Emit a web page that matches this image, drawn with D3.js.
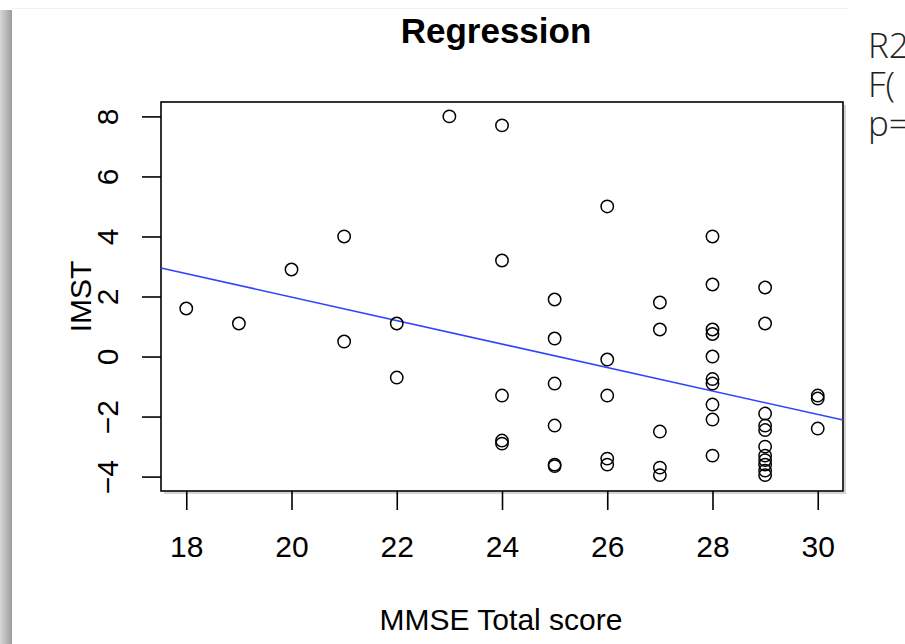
<!DOCTYPE html>
<html lang="en">
<head>
<meta charset="utf-8">
<title>Regression</title>
<script src="https://cdn.jsdelivr.net/npm/d3@7"></script>
<style>
  body { margin: 0; background: #fff; }
  text { font-family: "Liberation Sans", Arial, Helvetica, sans-serif; fill: #000; }
  .side { font-family: "Open Sans", "Noto Sans", sans-serif; font-weight: 300; fill: #222; }
  .dot { fill: none; stroke: #000; stroke-width: 1.5; }
  .fit { stroke: #3344ff; stroke-width: 1.6; }
</style>
</head>
<body>
<svg id="chart" width="905" height="644"></svg>
<script>
// data
var mmse = [18, 19, 20, 21, 21, 22, 22, 23,
            24, 24, 24, 24, 24,
            25, 25, 25, 25, 25, 25,
            26, 26, 26, 26, 26,
            27, 27, 27, 27, 27,
            28, 28, 28, 28, 28, 28, 28, 28, 28, 28,
            29, 29, 29, 29, 29, 29, 29, 29, 29, 29, 29,
            30, 30, 30]
var imst = [1.6, 1.1, 2.9, 4.0, 0.5, 1.1, -0.7, 8.0,
            7.7, 3.2, -1.3, -2.8, -2.9,
            1.9, 0.6, -0.9, -2.3, -3.6, -3.65,
            5.0, -0.1, -1.3, -3.4, -3.6,
            1.8, 0.9, -2.5, -3.7, -3.95,
            4.0, 2.4, 0.9, 0.75, 0.0, -0.75, -0.9, -1.6, -2.1, -3.3,
            2.3, 1.1, -1.9, -2.3, -2.45, -3.0, -3.3, -3.45, -3.6, -3.8, -3.95,
            -1.3, -1.4, -2.4]
var xTicks = [18, 20, 22, 24, 26, 28, 30]
var yTicks = [-4, -2, 0, 2, 4, 6, 8]
var fitCoef = [9.80, -0.391]   // intercept, slope
var sideLines = ["R2", "F(", "p="]

var svg = d3.select("#chart")

// left drop shadow of the pasted picture
var defs = svg.append("defs")
var grad = defs.append("linearGradient").attr("id", "shade")
grad.append("stop").attr("offset", "0%").attr("stop-color", "#d6d6d6")
grad.append("stop").attr("offset", "80%").attr("stop-color", "#a8a8a8")
grad.append("stop").attr("offset", "100%").attr("stop-color", "#9a9a9a")
svg.append("rect").attr("x", 0).attr("y", 10).attr("width", 12).attr("height", 634)
    .attr("fill", "url(#shade)")
svg.append("line").attr("x1", 12).attr("x2", 848).attr("y1", 8.5).attr("y2", 8.5)
    .attr("stroke", "#efefef")

var boxL = 161, boxR = 843, boxT = 102, boxB = 491

var x = d3.scaleLinear().domain([17.52, 30.48]).range([boxL, boxR])
var y = d3.scaleLinear().domain([-4.48, 8.48]).range([boxB, boxT])

// faint shadow behind the box
svg.append("path")
    .attr("d", "M" + (boxL + 3) + "," + (boxB + 2) + "H" + (boxR + 2) + "V" + (boxT + 3))
    .attr("fill", "none").attr("stroke", "#d4d4d4").attr("stroke-width", 2)

svg.append("rect")
    .attr("x", boxL).attr("y", boxT)
    .attr("width", boxR - boxL).attr("height", boxB - boxT)
    .attr("fill", "none").attr("stroke", "#000").attr("stroke-width", 1.6)

// x axis
var gx = svg.append("g")
    .attr("transform", "translate(0," + boxB + ")")
    .call(d3.axisBottom(x).tickValues(xTicks).tickSizeInner(19).tickSizeOuter(0))
gx.select(".domain").remove()
gx.selectAll("line").attr("stroke-width", 1.6)
gx.selectAll("text")
    .attr("y", 66).attr("dy", 0)
    .style("font-size", "30px")
    .attr("fill", "#000")

// y axis, labels turned like R does
var gy = svg.append("g")
    .attr("transform", "translate(" + boxL + ",0)")
    .call(d3.axisLeft(y).tickValues(yTicks).tickSizeInner(19).tickSizeOuter(0))
gy.select(".domain").remove()
gy.selectAll("line").attr("stroke-width", 1.6)
gy.selectAll("text")
    .attr("transform", "rotate(-90)")
    .attr("x", 0).attr("y", -43).attr("dy", 0)
    .attr("text-anchor", "middle")
    .style("font-size", "30px")
    .attr("fill", "#000")

// regression line across the box
var xd = x.domain()
svg.append("line").attr("class", "fit")
    .attr("x1", x(xd[0])).attr("y1", y(fitCoef[0] + fitCoef[1] * xd[0]))
    .attr("x2", x(xd[1])).attr("y2", y(fitCoef[0] + fitCoef[1] * xd[1]))

// points
svg.append("g").selectAll("circle")
    .data(d3.range(mmse.length))
    .join("circle")
    .attr("class", "dot")
    .attr("cx", function (i) { return x(mmse[i]) })
    .attr("cy", function (i) { return y(imst[i]) })
    .attr("r", 6.2)

// titles
svg.append("text")
    .attr("x", 496).attr("y", 43)
    .attr("text-anchor", "middle")
    .style("font-size", "35px").style("font-weight", "bold")
    .text("Regression")

svg.append("text")
    .attr("x", 501).attr("y", 630)
    .attr("text-anchor", "middle")
    .style("font-size", "30px")
    .text("MMSE Total score")

svg.append("text")
    .attr("transform", "translate(91," + ((boxT + boxB) / 2) + ") rotate(-90)")
    .attr("text-anchor", "middle")
    .style("font-size", "30px")
    .text("IMST")

// side note, cut by the window edge
svg.append("g").selectAll("text")
    .data(sideLines)
    .join("text")
    .attr("class", "side")
    .attr("x", 868)
    .attr("y", function (d, i) { return 58 + i * 39 })
    .style("font-size", "35px")
    .text(function (d) { return d })
</script>
</body>
</html>
